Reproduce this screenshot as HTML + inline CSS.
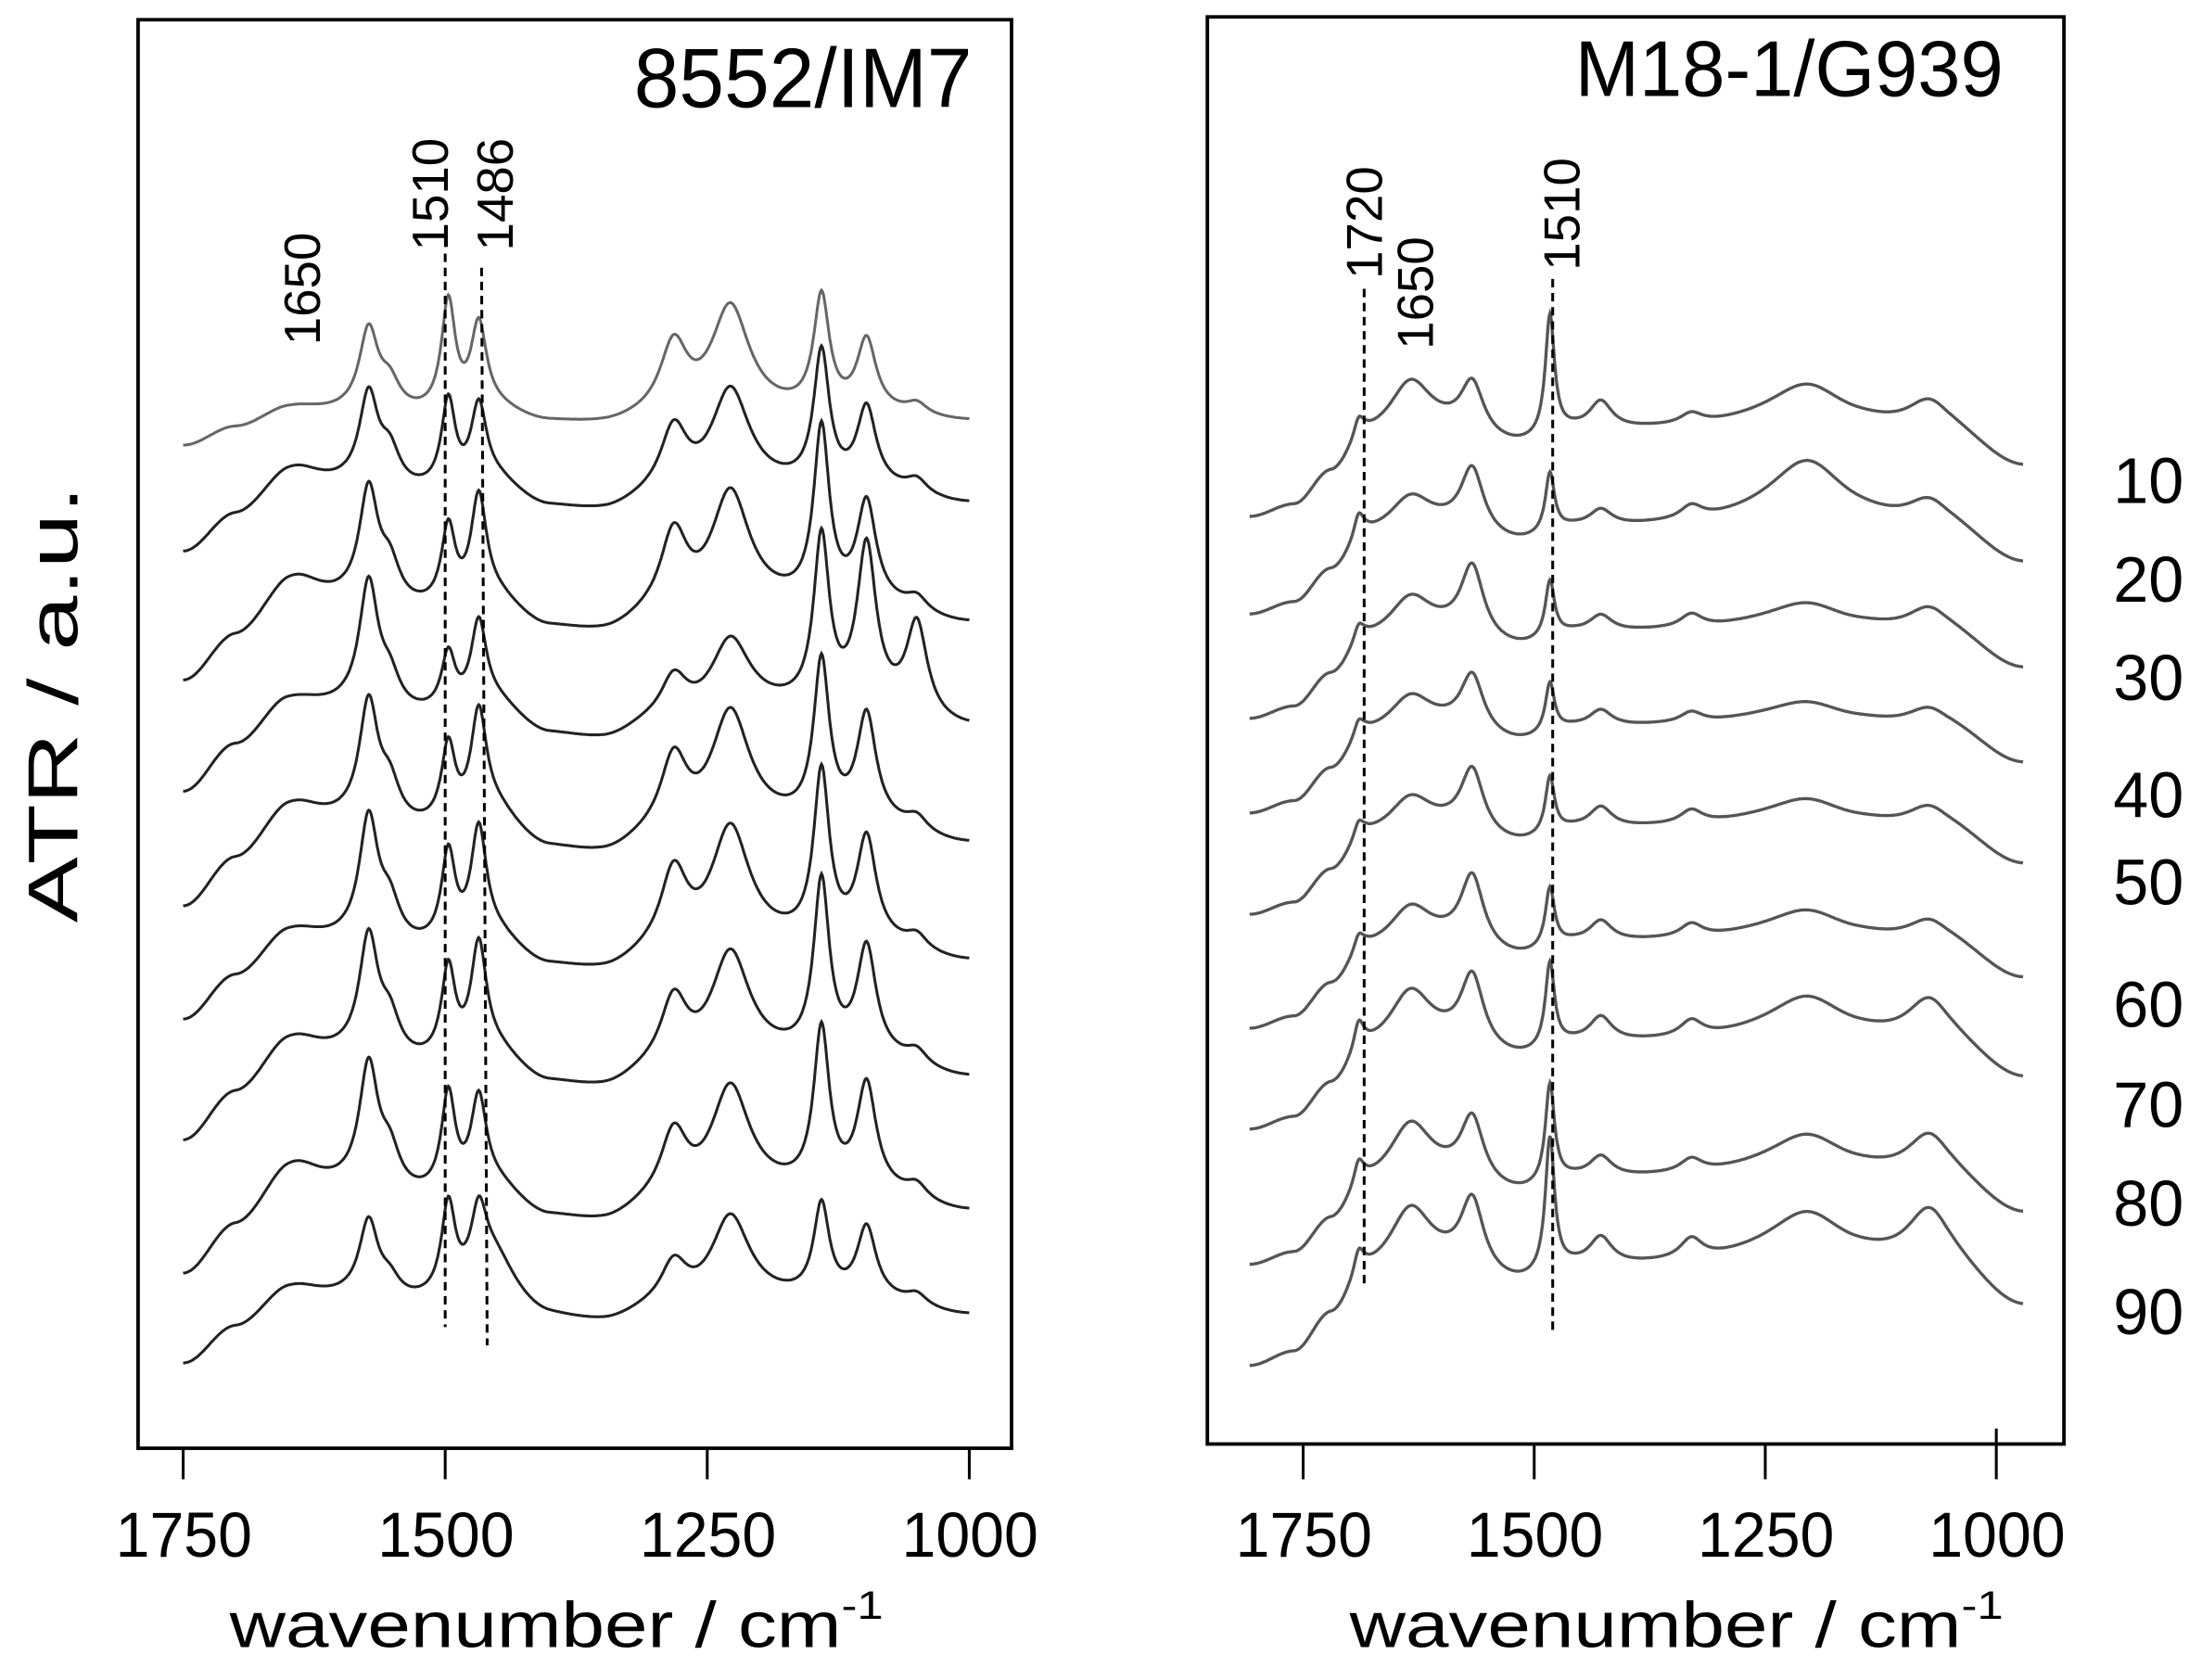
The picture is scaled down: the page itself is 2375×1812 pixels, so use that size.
<!DOCTYPE html>
<html><head><meta charset="utf-8"><style>
html,body{margin:0;padding:0;background:#fff;}
svg{display:block;font-family:"Liberation Sans",Arial,sans-serif;}
</style></head><body>
<svg id="chart" width="2375" height="1812" viewBox="0 0 1563 1192.5" xmlns="http://www.w3.org/2000/svg">
<rect x="98" y="14" width="620" height="1014" fill="none" stroke="#000" stroke-width="2.5"/>
<rect x="857" y="12" width="608" height="1013" fill="none" stroke="#000" stroke-width="2.5"/>
<text x="450" y="76" font-size="60" textLength="240" lengthAdjust="spacingAndGlyphs">8552/IM7</text>
<text x="1118" y="68" font-size="56" textLength="304" lengthAdjust="spacingAndGlyphs">M18-1/G939</text>
<text transform="translate(55,655) rotate(-90)" font-size="50" textLength="310" lengthAdjust="spacingAndGlyphs">ATR / a.u.</text>
<text x="163" y="1169" font-size="46" textLength="464" lengthAdjust="spacingAndGlyphs">wavenumber / cm<tspan font-size="28" dy="-20">-1</tspan></text>
<text x="958" y="1169" font-size="46" textLength="464" lengthAdjust="spacingAndGlyphs">wavenumber / cm<tspan font-size="28" dy="-20">-1</tspan></text>
<g id="layer"></g>
</svg>
<script>
// ---- left panel data (8552/IM7) ----
const leftTicks = [1750, 1500, 1250, 1000];
const leftStarts = [317, 393, 485, 563, 645, 725, 811, 906, 969];
const leftPeakPos = [1642, 1573, 1553, 1497, 1468, 1455, 1282, 1228, 1141, 1098, 1050];
const leftPeakWidth = [30, 11, 12, 8, 9, 25, 16, 22, 9, 11, 12];
const leftAmp1 = [5, 58, 20, 78, 60, 5, 50, 75, 80, 50, 8];
const leftAmp2 = [15, 65, 26, 62, 55, 10, 48, 70, 94, 55, 10];
const leftAmp3 = [20, 80, 28, 55, 74, 10, 58, 80, 122, 70, 10];
const leftAmp4 = [8, 90, 23, 40, 60, 10, 32, 50, 118, 112, 65];
const leftAmp5 = [15, 85, 28, 55, 74, 15, 55, 80, 112, 75, 10];
const leftAmp6 = [10, 88, 28, 64, 78, 10, 58, 82, 118, 72, 10];
const leftAmp7 = [15, 85, 28, 64, 78, 10, 50, 75, 122, 76, 10];
const leftAmp8 = [20, 88, 28, 70, 64, 10, 50, 75, 112, 74, 10];
const leftAmp9 = [10, 55, 14, 64, 46, 35, 32, 60, 65, 50, 8];
const leftBaseKnots = [1750, 1700, 1650, 1600, 1550, 1450, 1400, 1350, 1300, 1200, 1100, 1000];
const leftBaseShape = [0, 25, 45, 45, 40, 40, 30, 28, 35, 45, 45, 35];
const leftBaseScale = [0.5, 1, 1.2, 1.3, 1.3, 1.2, 1.3, 1.3, 1.0];
const leftMarkers = [1500, 1468];
const leftMarkerLabels = ["1510", "1486"];
// ---- right panel data (M18-1/G939) ----
const rightTicks = [1750, 1500, 1250, 1000];
const rightLevels = ["10", "20", "30", "40", "50", "60", "70", "80", "90"];
const rightStarts = [368, 437, 511, 578, 650, 731, 803, 899, 971];
const rightPeakPos = [1690, 1634, 1567, 1483, 1428, 1330, 1204, 1072];
const rightPeakWidth = [6, 28, 15, 6, 15, 15, 50, 30];
const rightAmp1 = [12, 38, 36, 85, 20, 8, 30, 25];
const rightAmp2 = [15, 25, 45, 42, 12, 10, 45, 22];
const rightAmp3 = [10, 28, 50, 40, 12, 10, 18, 22];
const rightAmp4 = [10, 25, 40, 35, 12, 8, 15, 18];
const rightAmp5 = [10, 25, 45, 40, 15, 10, 18, 20];
const rightAmp6 = [10, 28, 50, 42, 15, 10, 20, 20];
const rightAmp7 = [18, 40, 50, 60, 18, 12, 30, 35];
const rightAmp8 = [15, 42, 45, 70, 15, 10, 28, 35];
const rightAmp9 = [15, 45, 50, 95, 20, 15, 35, 45];
const rightBaseKnots = [1808, 1760, 1720, 1680, 1600, 1520, 1450, 1350, 1250, 1150, 1050, 971];
const rightBaseShape = [0, 8, 30, 55, 60, 50, 60, 62, 65, 62, 55, 35];
const rightBaseScale = [1, 1, 1, 1, 1, 1, 1, 1, 1.15];
const rightMarkers = [1684, 1480];

const leftAmps = [leftAmp1, leftAmp2, leftAmp3, leftAmp4, leftAmp5, leftAmp6, leftAmp7, leftAmp8, leftAmp9];
const rightAmps = [rightAmp1, rightAmp2, rightAmp3, rightAmp4, rightAmp5, rightAmp6, rightAmp7, rightAmp8, rightAmp9];

const NS = "http://www.w3.org/2000/svg";
const layer = document.getElementById("layer");
function mk(tag, attrs) { const e = document.createElementNS(NS, tag); for (const k in attrs) e.setAttribute(k, attrs[k]); layer.appendChild(e); return e; }
const xL = wn => 130 + (1750 - wn) * 0.744;
const xR = wn => 925 + (1750 - wn) * 0.656;

function baseAt(wn, knots, shape) {
  for (let i = 0; i < knots.length - 1; i++) {
    if (wn <= knots[i] && wn >= knots[i + 1]) {
      const t = (knots[i] - wn) / (knots[i] - knots[i + 1]);
      const s = (1 - Math.cos(Math.PI * t)) / 2;
      return shape[i] + (shape[i + 1] - shape[i]) * s;
    }
  }
  return shape[shape.length - 1];
}
function spectrumPath(xf, wnStart, wnEnd, start, amps, pos, wid, knots, shape, scale) {
  let d = "";
  for (let wn = wnStart; wn >= wnEnd; wn -= 1) {
    let up = baseAt(wn, knots, shape) * scale;
    for (let k = 0; k < pos.length; k++) { const z = (wn - pos[k]) / wid[k]; up += amps[k] / (1 + z * z); }
    d += (d ? "L" : "M") + xf(wn).toFixed(1) + "," + (start - up).toFixed(1);
  }
  return d;
}

leftStarts.forEach((s, i) => {
  const p = mk("path", { d: spectrumPath(xL, 1750, 1000, s, leftAmps[i], leftPeakPos, leftPeakWidth, leftBaseKnots, leftBaseShape, leftBaseScale[i]), fill: "none", stroke: i === 0 ? "#666" : "#222", "stroke-width": 2 });
  
  
});
rightStarts.forEach((s, i) => {
  const p = mk("path", { d: spectrumPath(xR, 1808, 971, s, rightAmps[i], rightPeakPos, rightPeakWidth, rightBaseKnots, rightBaseShape, rightBaseScale[i]), fill: "none", stroke: "#555", "stroke-width": 2.2 });
  
  
});

leftMarkers.forEach((wn, i) => {
  const l = mk("line", { x1: xL(wn) + (i ? 2 : 0), y1: i ? 190 : 180, x2: xL(wn) + (i ? 6 : 0), y2: i ? 955 : 942, stroke: "#000", "stroke-width": 2, "stroke-dasharray": "6,4" });
  
  
});
[[rightMarkers[0], 205, 915], [rightMarkers[1], 198, 945]].forEach((m, i) => {
  const l = mk("line", { x1: xR(m[0]), y1: m[1], x2: xR(m[0]), y2: m[2], stroke: "#000", "stroke-width": 2, "stroke-dasharray": "6,4" });
  
  
});

[["1650", 227, 245], ["1510", 318, 178], ["1486", 364, 178], ["1720", 981, 198], ["1650", 1017, 248], ["1510", 1121, 192]].forEach((a, i) => {
  const t = mk("text", { transform: "translate(" + a[1] + "," + a[2] + ") rotate(-90)", "font-size": 36 });
  t.textContent = a[0];
  
  
});

leftTicks.forEach(v => {
  const l = mk("line", { x1: xL(v), y1: 1028, x2: xL(v), y2: 1050, stroke: "#000", "stroke-width": 2 });
  
  
  const t = mk("text", { x: xL(v) - 48, y: 1105, "font-size": 45, textLength: 97, lengthAdjust: "spacingAndGlyphs" });
  t.textContent = v;
  
  
});
rightTicks.forEach(v => {
  const l = mk("line", { x1: xR(v), y1: v === 1000 ? 1014 : 1025, x2: xR(v), y2: 1050, stroke: "#000", "stroke-width": 2 });
  
  
  const t = mk("text", { x: xR(v) - 48, y: 1105, "font-size": 45, textLength: 97, lengthAdjust: "spacingAndGlyphs" });
  t.textContent = v;
  
  
});
const levelY = [340, 410, 480, 563, 625, 712, 783, 853, 930];
rightLevels.forEach((v, i) => {
  const t = mk("text", { x: 1500, y: levelY[i] + 17, "font-size": 46, textLength: 50, lengthAdjust: "spacingAndGlyphs" });
  t.textContent = v;
  
  
});
</script>
</body></html>
